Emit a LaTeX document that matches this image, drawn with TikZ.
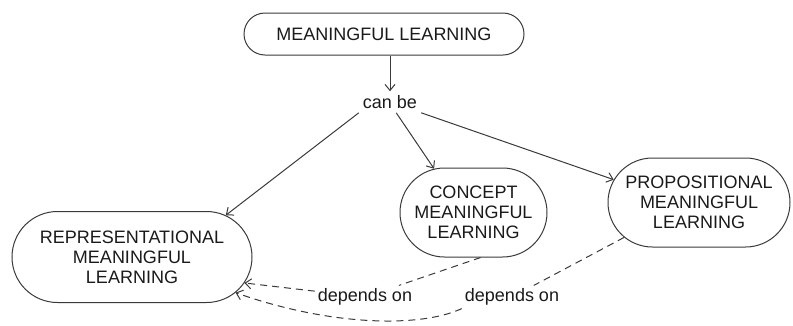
\documentclass[tikz,border=0pt]{standalone}
\usepackage{fontspec}
\setmainfont{Liberation Sans}
\usetikzlibrary{shapes.misc,arrows.meta}
\definecolor{linec}{HTML}{3A3A3A}
\definecolor{textc}{HTML}{1A1A1A}
\newcommand{\zl}[1]{\makebox[0pt]{#1}}
\begin{document}
\begin{tikzpicture}[x=1pt,y=-1pt,
  concept/.style={rounded rectangle, draw=linec, line width=1pt, align=center, text=textc,
    font=\fontsize{18}{20}\selectfont, inner sep=0pt},
  linkword/.style={text=textc, font=\fontsize{18}{20}\selectfont, inner sep=4pt},
  arr/.style={draw=linec, line width=1pt, -{Straight Barb[length=6pt,width=10pt]}},
  dashline/.style={draw=linec, line width=1pt, dash pattern=on 7pt off 5pt},
  deparr/.style={dashline, -{Straight Barb[length=6pt,width=10pt]}},
  deplabel/.style={linkword, fill=white, inner sep=3pt}
]
\useasboundingbox (0,0) rectangle (793,325);
\node[concept, minimum width=280pt, minimum height=42pt] (ml) at (384,34) {\zl{MEANINGFUL LEARNING}};
\node[linkword] (canbe) at (390,102) {can be};
\node[concept, minimum width=240pt, minimum height=91pt] (rep) at (132,257)
  {\zl{REPRESENTATIONAL}\\\zl{MEANINGFUL}\\\zl{LEARNING}};
\node[concept, minimum width=147pt, minimum height=89pt] (cml) at (473.5,212.5)
  {\zl{CONCEPT}\\\zl{MEANINGFUL}\\\zl{LEARNING}};
\node[concept, minimum width=182pt, minimum height=89pt] (pml) at (699,202.5)
  {\zl{PROPOSITIONAL}\\\zl{MEANINGFUL}\\\zl{LEARNING}};
\node[deplabel] (dep1) at (365,297) {depends on};
\node[deplabel] (dep2) at (512,297) {depends on};

\draw[arr] (ml.south -| canbe) -- (canbe);
\draw[arr] (canbe.south west) -- (rep.24);
\draw[arr] (canbe.-60) -- (cml.132);
\draw[arr] (canbe.south east) -- (pml.165);

\draw[dashline] (cml.-81) -- (dep1);
\draw[deparr] (dep1) -- (rep.-13);
\draw[dashline] (pml.-155) -- (dep2);
\draw[deparr] (dep2.south west) .. controls (420,328) and (330,326) .. (rep.-19);
\end{tikzpicture}
\end{document}
